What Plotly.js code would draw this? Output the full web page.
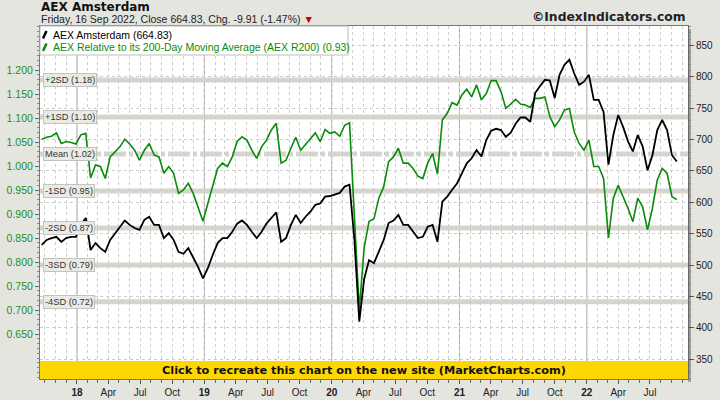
<!DOCTYPE html>
<html>
<head>
<meta charset="utf-8">
<script src="https://cdn.plot.ly/plotly-3.0.1.min.js"></script>
<style>html,body{margin:0;padding:0;background:#e5e5df;}#chart{width:720px;height:400px;}</style>
</head>
<body>
<div id="chart"></div>
<script>
// ---- data (biweekly closes, starting 2017-09-22) ----
const startDate = '2017-09-22';
const stepDays = 14;
const aexClose = [532,540,543,545,537,543,545,545,564,575,
  524,535,527,521,540,551,561,571,564,559,
  556,572,577,564,564,543,551,540,521,518,
  527,513,497,479,495,516,535,543,543,553,
  566,571,564,553,543,553,566,575,584,537,
  543,564,580,567,577,585,596,598,609,610,
  613,615,625,628,540,410,478,508,503,521,
  540,567,571,580,564,564,553,543,545,561,
  564,537,601,609,620,630,646,662,670,683,
  673,699,714,717,715,704,711,725,735,735,
  728,774,785,795,794,766,803,819,827,805,
  787,792,803,763,763,744,660,707,739,720,
  697,681,707,689,651,675,715,731,715,675,664.83];
const r200 = [1.056,1.060,1.062,1.069,1.047,1.051,1.049,1.046,1.065,1.068,
  0.975,1.002,0.999,0.974,1.019,1.030,1.040,1.056,1.046,1.033,
  1.012,1.033,1.047,1.023,1.019,0.985,0.999,0.985,0.943,0.950,
  0.964,0.943,0.915,0.885,0.922,0.957,0.995,1.006,0.999,1.019,
  1.051,1.061,1.054,1.033,1.016,1.040,1.054,1.075,1.089,1.006,
  1.012,1.037,1.060,1.033,1.045,1.058,1.069,1.051,1.076,1.068,
  1.071,1.062,1.085,1.090,0.900,0.700,0.830,0.885,0.890,0.933,
  0.957,1.009,1.019,1.037,1.006,1.006,0.995,0.979,0.974,1.006,
  1.026,0.983,1.096,1.110,1.132,1.127,1.148,1.160,1.144,1.169,
  1.138,1.151,1.178,1.178,1.155,1.120,1.129,1.139,1.129,1.127,
  1.122,1.141,1.141,1.144,1.103,1.082,1.096,1.117,1.120,1.071,
  1.047,1.033,1.054,0.999,0.999,0.974,0.850,0.933,0.960,0.936,
  0.912,0.884,0.933,0.915,0.867,0.912,0.971,0.995,0.985,0.936,0.930];
const sdLevels = [1.179, 1.102, 1.025, 0.948, 0.871, 0.794, 0.717];
const sdLabels = ['+2SD (1.18)','+1SD (1.10)','Mean (1.02)','-1SD (0.95)','-2SD (0.87)','-3SD (0.79)','-4SD (0.72)'];
const leftTicks = [0.65,0.70,0.75,0.80,0.85,0.90,0.95,1.00,1.05,1.10,1.15,1.20];
const rightTicks = [350,400,450,500,550,600,650,700,750,800,850];
const yearStarts = ['2018-01-01','2019-01-01','2020-01-01','2021-01-01','2022-01-01'];
const monthNames = ['Apr','Jul','Oct'];

function addDays(s, n) {
  const d = new Date(s + 'T00:00:00Z');
  d.setUTCDate(d.getUTCDate() + n);
  return d.toISOString().slice(0, 10);
}
const dates = aexClose.map((_, i) => addDays(startDate, i * stepDays));

// quarterly tick labels
const tickVals = [], tickText = [];
yearStarts.forEach(ys => {
  const y = ys.slice(0, 4);
  tickVals.push(ys); tickText.push('<b>' + y.slice(2) + '</b>');
  ['04','07','10'].forEach((m, j) => {
    const d = y + '-' + m + '-01';
    if (d <= '2022-07-01') { tickVals.push(d); tickText.push(monthNames[j]); }
  });
});

// pixel helpers (plot area: x 40..688, y 26..379)
const L = 40, R = 688, T = 26, B = 379;
const px = x => (x - L) / (R - L);
const py = y => (B - y) / (B - T);

const green = '#0a8a0a';
const gridCol = '#cdcdcd';
const shapes = [];
yearStarts.forEach(d => shapes.push({type:'line', xref:'x', yref:'paper', x0:d, x1:d, y0:0, y1:1,
  line:{color:'#a4a4a4', width:1}, layer:'below'}));
sdLevels.forEach((v, i) => shapes.push({type:'line', xref:'paper', yref:'y', x0:0, x1:1, y0:v, y1:v,
  line:{color:'#d5d5cd', width:5, dash: i === 2 ? '22px,3px,4px,3px' : 'solid'}, layer:'below'}));
// right shadow of plot frame
shapes.push({type:'rect', xref:'paper', yref:'paper', x0:1, x1:px(691), y0:py(382), y1:py(29),
  fillcolor:'#a0a0a0', line:{width:0}, layer:'below'});
// banner
shapes.push({type:'rect', xref:'paper', yref:'paper', x0:0, x1:1, y0:0, y1:py(361),
  fillcolor:'#ffd700', line:{width:0}, layer:'above'});
// legend box
shapes.push({type:'rect', xref:'paper', yref:'paper', x0:0, x1:px(348), y0:py(55), y1:1,
  fillcolor:'#ffffff', line:{color:'#bdbdbd', width:1}, layer:'above'});
shapes.push({type:'line', xref:'paper', yref:'paper', x0:px(43), x1:px(46.5), y0:py(38.5), y1:py(31),
  line:{color:'#000', width:2.5}, layer:'above'});
shapes.push({type:'line', xref:'paper', yref:'paper', x0:px(43), x1:px(46.5), y0:py(51), y1:py(43.5),
  line:{color:green, width:2.5}, layer:'above'});

const annotations = [
  {text:'<b>AEX Amsterdam</b>', xref:'paper', yref:'paper', x:px(39), y:py(7), xanchor:'left', yanchor:'middle',
   showarrow:false, font:{family:'DejaVu Sans', size:12, color:'#111'}},
  {text:'Friday, 16 Sep 2022, Close 664.83, Chg. -9.91 (-1.47%) <span style="color:#d00000">▼</span>',
   xref:'paper', yref:'paper', x:px(39), y:py(19), xanchor:'left', yanchor:'middle',
   showarrow:false, font:{family:'Liberation Sans, Arial', size:10.5, color:'#222'}},
  {text:'<b>©IndexIndicators.com</b>', xref:'paper', yref:'paper', x:px(688), y:py(17), xanchor:'right', yanchor:'middle',
   showarrow:false, font:{family:'DejaVu Sans', size:12.3, color:'#222'}},
  {text:'AEX Amsterdam (664.83)', xref:'paper', yref:'paper', x:px(51), y:py(34.5), xanchor:'left', yanchor:'middle',
   showarrow:false, font:{family:'Liberation Sans, Arial', size:10.5, color:'#000'}},
  {text:'AEX Relative to its 200-Day Moving Average (AEX R200) (0.93)', xref:'paper', yref:'paper', x:px(51), y:py(47), xanchor:'left', yanchor:'middle',
   showarrow:false, font:{family:'Liberation Sans, Arial', size:10.5, color:green}},
  {text:'<b>Click to recreate this chart on the new site (MarketCharts.com)</b>', xref:'paper', yref:'paper', x:0.5, y:py(370.5),
   xanchor:'center', yanchor:'middle', showarrow:false, font:{family:'DejaVu Sans', size:11.3, color:'#111'}}
];
sdLevels.forEach((v, i) => annotations.push({text:sdLabels[i], xref:'paper', yref:'y', x:px(43), y:v,
  xanchor:'left', yanchor:'middle', showarrow:false, bgcolor:'#ebebe6', bordercolor:'#c4c4bc', borderwidth:1, borderpad:1,
  font:{family:'Liberation Sans, Arial', size:9.3, color:'#333'}}));

const traces = [
  {x:dates, y:r200, yaxis:'y', type:'scatter', mode:'lines', line:{color:green, width:1.6}, hoverinfo:'skip'},
  {x:dates, y:aexClose, yaxis:'y2', type:'scatter', mode:'lines', line:{color:'#000', width:1.8}, hoverinfo:'skip'}
];

const layout = {
  width:720, height:400,
  margin:{l:L, r:720 - R, t:T, b:400 - B, pad:0},
  paper_bgcolor:'#e5e5df', plot_bgcolor:'#ffffff',
  showlegend:false,
  xaxis:{type:'date', range:['2017-09-17','2022-10-18'], tickmode:'array', tickvals:tickVals, ticktext:tickText,
    ticks:'outside', ticklen:4, tickcolor:'#555', showgrid:true, gridcolor:gridCol, griddash:'3px,3px',
    minor:{dtick:'M1', tick0:'2017-10-01', ticks:'outside', ticklen:3, tickcolor:'#666', showgrid:true, gridcolor:gridCol, griddash:'3px,3px'},
    tickfont:{family:'Liberation Sans, Arial', size:10, color:'#222'},
    showline:true, linecolor:'#777', linewidth:1, mirror:true, zeroline:false, fixedrange:true},
  yaxis:{range:[0.5563, 1.2917], tickmode:'array', tickvals:leftTicks, tickformat:'.3f',
    tickfont:{family:'Liberation Sans, Arial', size:10.5, color:'#1f8f1f'},
    ticks:'outside', ticklen:4, tickcolor:'#666', showgrid:false, zeroline:false,
    showline:true, linecolor:'#777', linewidth:1,
    minor:{dtick:0.01, tick0:0.55, ticks:'outside', ticklen:2, tickcolor:'#888', showgrid:false}},
  yaxis2:{overlaying:'y', side:'right', range:[318.6, 880.7], tickmode:'array', tickvals:rightTicks,
    tickfont:{family:'Liberation Sans, Arial', size:10, color:'#222'},
    ticks:'outside', ticklen:5, tickcolor:'#555', showgrid:true, gridcolor:gridCol, griddash:'3px,3px', zeroline:false,
    showline:true, linecolor:'#666', linewidth:1,
    minor:{dtick:10, tick0:320, ticks:'outside', ticklen:2, tickcolor:'#888', showgrid:false}},
  shapes:shapes, annotations:annotations
};

Plotly.newPlot('chart', traces, layout, {staticPlot:true, displayModeBar:false});
</script>
</body>
</html>
